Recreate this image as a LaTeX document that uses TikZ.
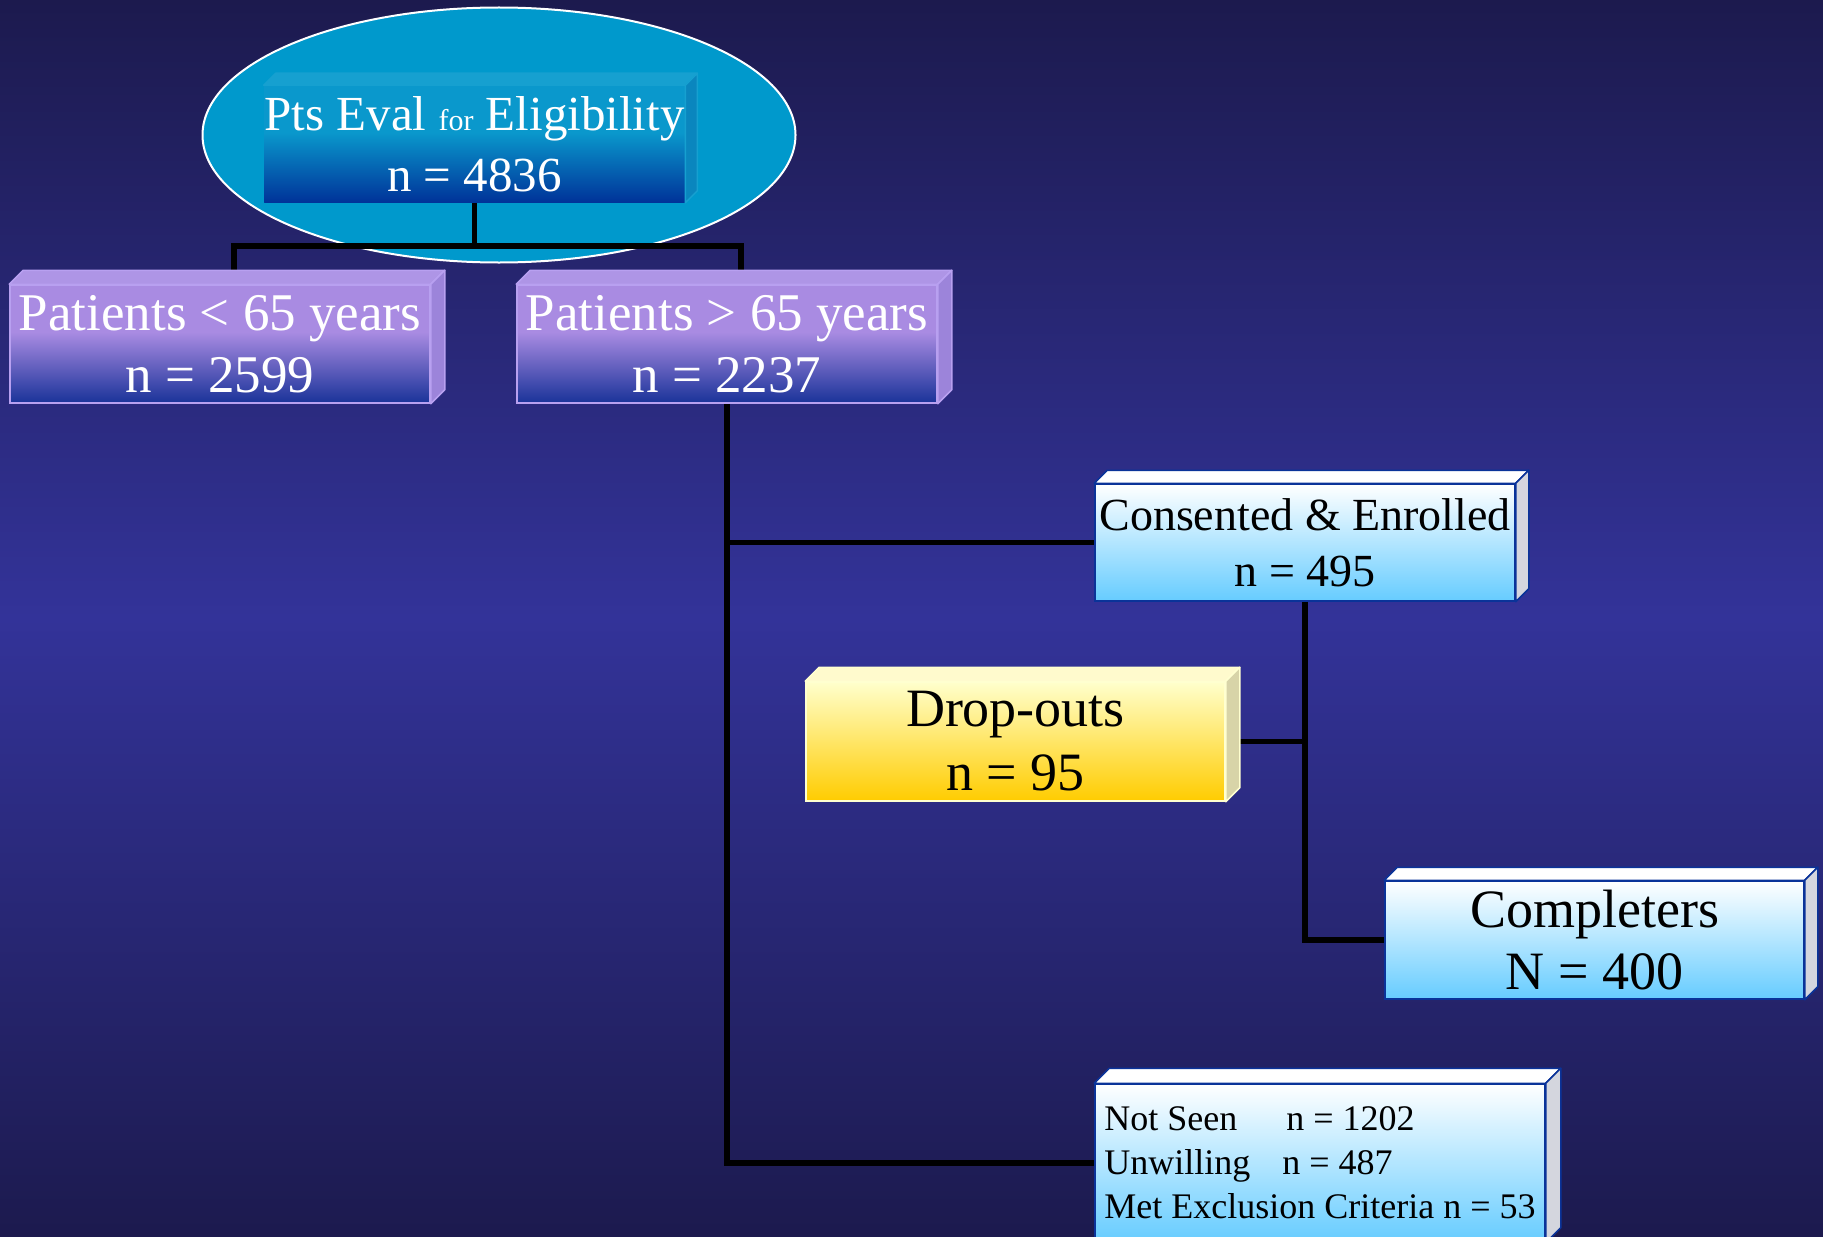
\documentclass[tikz,border=0pt]{standalone}
\usepackage{fontspec}
\setmainfont{Liberation Serif}
\usetikzlibrary{shapes.geometric}

\definecolor{bgdark}{HTML}{1C1A4E}
\definecolor{bgmid}{HTML}{333399}
\definecolor{cyanoval}{HTML}{0099CC}
\definecolor{evaltop}{HTML}{0A98CC}
\definecolor{evalbot}{HTML}{003399}
\definecolor{evalroof}{HTML}{16A0D0}
\definecolor{evalside}{HTML}{0A86BE}
\definecolor{lilactop}{HTML}{A98BE2}
\definecolor{lilacbot}{HTML}{1A3399}
\definecolor{lilacedge}{HTML}{B8A0F0}
\definecolor{lilacroof}{HTML}{AE95E6}
\definecolor{lilacside}{HTML}{9C84DA}
\definecolor{skybot}{HTML}{66CCFF}
\definecolor{navyedge}{HTML}{0A3399}
\definecolor{greyside}{HTML}{D4D6DE}
\definecolor{creamtop}{HTML}{FFFFCC}
\definecolor{goldbot}{HTML}{FFCC00}
\definecolor{creamedge}{HTML}{FFFFD0}
\definecolor{creamroof}{HTML}{FFFACD}
\definecolor{khakiside}{HTML}{D8D4A8}

% light colour over the upper part of a face, fading to dark towards the foot
\pgfdeclareverticalshading{evalfade}{100bp}{color(0bp)=(evalbot); color(25bp)=(evalbot);
  color(55bp)=(evaltop); color(100bp)=(evaltop)}
\pgfdeclareverticalshading{lilacfade}{100bp}{color(0bp)=(lilacbot); color(25bp)=(lilacbot);
  color(55bp)=(lilactop); color(100bp)=(lilactop)}

% top face and right face of a raised box drawn on a named node
\newcommand\boxfaces[5]{%
  \filldraw[fill=#3, draw=#5, line width=0.75pt, line join=round]
    (#1.north west) -- ++(#2,-#2) -- ([shift={(#2,-#2)}]#1.north east) -- (#1.north east) -- cycle;
  \filldraw[fill=#4, draw=#5, line width=0.75pt, line join=round]
    (#1.north east) -- ++(#2,-#2) -- ([shift={(#2,-#2)}]#1.south east) -- (#1.south east) -- cycle;
}

\tikzset{
  frontface/.style={inner sep=0pt, line width=0.75pt, align=center},
  evalface/.style={frontface, shading=evalfade, text=white,
    font=\fontsize{24.5}{30.5}\selectfont},
  lilacface/.style={frontface, draw=lilacedge, shading=lilacfade, text=white,
    font=\fontsize{26.5}{31}\selectfont},
  skyface/.style={frontface, draw=navyedge, top color=white, bottom color=skybot, text=black},
  goldface/.style={frontface, draw=creamedge, top color=creamtop, bottom color=goldbot, text=black},
  link/.style={line width=2.8pt, black, line join=miter},
}

\begin{document}
\begin{tikzpicture}[x=0.5pt, y=-0.5pt]
\useasboundingbox (0,0) rectangle (1823,1236);
\fill[top color=bgdark, bottom color=bgdark, middle color=bgmid] (0,0) rectangle (1823,1236);

% oval behind the first box
\node[ellipse, draw=white, line width=1pt, fill=cyanoval, inner sep=0pt,
      minimum width=593*0.5pt, minimum height=255*0.5pt] (oval) at (499,135) {};

% front faces (placed first so the connectors can refer to them)
\node[evalface, minimum width=419*0.5pt, minimum height=116*0.5pt] (eval) at (474.5,144)
  {Pts Eval {\fontsize{15}{15}\selectfont for} Eligibility\\ n = 4836};
\node[lilacface, minimum width=420*0.5pt, minimum height=118*0.5pt] (lt) at (220,344)
  {Patients < 65 years\\ n = 2599};
\node[lilacface, minimum width=420*0.5pt, minimum height=118*0.5pt] (gt) at (727,344)
  {Patients > 65 years\\ n = 2237};
\node[skyface, minimum width=420*0.5pt, minimum height=117*0.5pt,
      font=\fontsize{23}{28}\selectfont] (cons) at (1305,542.5)
  {Consented \& Enrolled\\ n = 495};
\node[goldface, minimum width=419*0.5pt, minimum height=119*0.5pt,
      font=\fontsize{27}{32}\selectfont] (drop) at (1015.5,741.5)
  {Drop-outs\\ n = 95};
\node[skyface, minimum width=419*0.5pt, minimum height=118*0.5pt,
      font=\fontsize{27}{31}\selectfont] (comp) at (1594.5,940)
  {Completers\\ N = 400};
\node[skyface, minimum width=450*0.5pt, minimum height=158*0.5pt, align=left,
      font=\fontsize{18}{22}\selectfont] (excl) at (1320,1163)
  {\makebox[91pt][l]{Not Seen}n = 1202\\
   \makebox[89pt][l]{Unwilling}n = 487\\
   Met Exclusion Criteria n = 53};

% connectors
\draw[link] (eval.south) -- ++(0,43) coordinate (fork);
\draw[link] ([xshift=7pt]lt.north) |- (fork) -| ([xshift=7pt]gt.north);
\draw[link] (gt.south) |- (cons.west);
\draw[link] (gt.south) |- (excl.west);
\draw[link] (cons.south) |- (comp.west);
\draw[link] (drop.east) -- (drop.east -| cons.south);

% redraw the front faces over the connector ends, then their 3-D faces
\node[evalface, minimum width=419*0.5pt, minimum height=116*0.5pt] at (eval)
  {Pts Eval {\fontsize{15}{15}\selectfont for} Eligibility\\ n = 4836};
\boxfaces{eval}{12}{evalroof}{evalside}{evalroof}
\node[lilacface, minimum width=420*0.5pt, minimum height=118*0.5pt] at (lt)
  {Patients < 65 years\\ n = 2599};
\boxfaces{lt}{14}{lilacroof}{lilacside}{lilacedge}
\node[lilacface, minimum width=420*0.5pt, minimum height=118*0.5pt] at (gt)
  {Patients > 65 years\\ n = 2237};
\boxfaces{gt}{14}{lilacroof}{lilacside}{lilacedge}
\boxfaces{cons}{13}{white}{greyside}{navyedge}
\boxfaces{drop}{14}{creamroof}{khakiside}{creamedge}
\boxfaces{comp}{13}{white}{greyside}{navyedge}
\boxfaces{excl}{15}{white}{greyside}{navyedge}
\end{tikzpicture}
\end{document}
